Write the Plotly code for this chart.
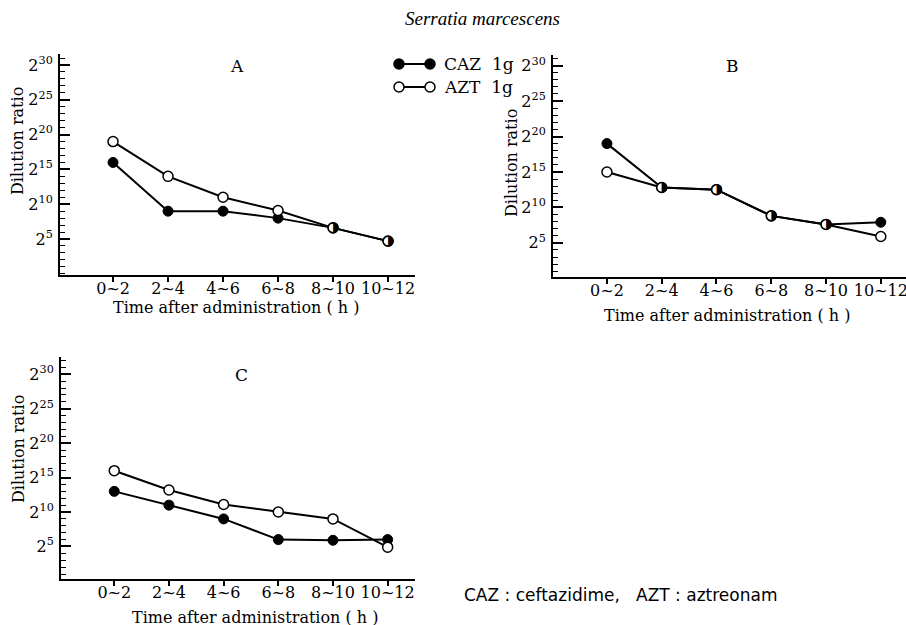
import plotly.graph_objects as go

# ---------------- data ----------------
categories = ["0~2", "2~4", "4~6", "6~8", "8~10", "10~12"]

# exponents of 2 (dilution ratio = 2^value)
A_caz = [16, 9, 9, 8, 6.6, 4.7]
A_azt = [19, 14, 11, 9.1, 6.6, 4.7]
B_caz = [19, 12.8, 12.5, 8.8, 7.6, 7.9]
B_azt = [15, 12.8, 12.5, 8.8, 7.6, 5.9]
C_caz = [13, 11, 9, 6, 5.9, 6]
C_azt = [16, 13.2, 11.1, 10, 9, 4.9]

ytick_vals = [5, 10, 15, 20, 25, 30]
ytick_text = ["2<sup>%d</sup>" % v for v in ytick_vals]

W, H = 906, 625
SERIF = "DejaVu Serif"

fig = go.Figure()

# panel geometry in pixels: (left, right, top, bottom, xrange, yrange)
panels = {
    "A": dict(l=60, r=415, t=54, b=275, xr=[-0.964, 5.49], yr=[-0.17, 31.58],
              caz=A_caz, azt=A_azt),
    "B": dict(l=553, r=906, t=55, b=277, xr=[-0.985, 5.46], yr=[0.18, 31.5],
              caz=B_caz, azt=B_azt),
    "C": dict(l=61, r=415, t=357, b=579, xr=[-0.974, 5.50], yr=[0.28, 32.5],
              caz=C_caz, azt=C_azt),
}

layout_axes = {}
for i, (name, p) in enumerate(panels.items()):
    n = "" if i == 0 else str(i + 1)
    xa, ya = "x" + n, "y" + n
    fig.add_trace(go.Scatter(
        x=categories, y=p["caz"], mode="lines+markers", xaxis=xa, yaxis=ya,
        line=dict(color="black", width=2),
        marker=dict(symbol="circle", size=10, color="black",
                    line=dict(color="black", width=1)),
        showlegend=False, cliponaxis=False))
    fig.add_trace(go.Scatter(
        x=categories, y=p["azt"], mode="lines+markers", xaxis=xa, yaxis=ya,
        line=dict(color="black", width=2),
        marker=dict(symbol="circle", size=10, color="white",
                    line=dict(color="black", width=1.5)),
        showlegend=False, cliponaxis=False))
    # half-filled markers where both series coincide
    hx = [c for c, a, b in zip(categories, p["caz"], p["azt"]) if a == b]
    hy = [a for a, b in zip(p["caz"], p["azt"]) if a == b]
    fig.add_trace(go.Scatter(
        x=hx, y=hy, mode="text", text=["\u25d1"] * len(hx),
        textposition="middle center", xaxis=xa, yaxis=ya,
        textfont=dict(family="DejaVu Sans", size=14, color="black"),
        showlegend=False, cliponaxis=False))

    layout_axes["xaxis" + n] = dict(
        domain=[p["l"] / W, p["r"] / W], anchor=ya,
        type="category", categoryorder="array", categoryarray=categories,
        range=p["xr"], showline=True, linewidth=2, linecolor="black",
        ticks="outside", ticklen=5, tickwidth=1.5, tickcolor="black",
        showgrid=False, zeroline=False, automargin=False,
        ticklabelstandoff=-7,
        tickfont=dict(family=SERIF, size=16, color="black"))
    layout_axes["yaxis" + n] = dict(
        domain=[1 - p["b"] / H, 1 - p["t"] / H], anchor=xa,
        range=p["yr"], showline=True, linewidth=2, linecolor="black",
        tickmode="array", tickvals=ytick_vals, ticktext=ytick_text,
        ticks="inside", ticklen=10, tickwidth=1.5, tickcolor="black",
        minor=dict(tickmode="linear", tick0=0, dtick=1, ticks="inside",
                   ticklen=5, tickwidth=1, tickcolor="black"),
        showgrid=False, zeroline=False, ticklabelstandoff=2, automargin=False,
        tickfont=dict(family=SERIF, size=16, color="black"))

annotations = []
def ann(text, x, y, size=16, family=SERIF, angle=0, **kw):
    annotations.append(dict(text=text, x=x / W, y=1 - y / H, xref="paper",
                            yref="paper", showarrow=False, textangle=angle,
                            xanchor="center", yanchor="middle",
                            font=dict(family=family, size=size, color="black"),
                            **kw))

ann("<i>Serratia marcescens</i>", 483, 18, size=19, family="Liberation Serif")
ann("A", 237, 66, size=17)
ann("B", 732, 66, size=17)
ann("C", 241, 375, size=17)
for (x, y) in [(17, 141), (512, 163), (18, 449)]:
    ann("Dilution ratio", x, y, size=16, angle=-90)
for (x, y) in [(236, 307), (727, 315), (255, 617)]:
    ann("Time after administration\u00a0( h )", x, y, size=16)
ann("CAZ : ceftazidime,\u00a0\u00a0\u00a0AZT : aztreonam", 620, 595, size=17,
    family="DejaVu Sans")

# custom legend
shapes = []
for (y, fill, label) in [(64, "black", "CAZ\u00a0\u00a01g"), (87, "white", "AZT\u00a0\u00a01g")]:
    shapes.append(dict(type="line", xref="paper", yref="paper",
                       x0=399 / W, x1=430 / W, y0=1 - y / H, y1=1 - y / H,
                       line=dict(color="black", width=2)))
    for cx in (399, 430):
        shapes.append(dict(type="circle", xref="paper", yref="paper",
                           xsizemode="pixel", ysizemode="pixel",
                           xanchor=cx / W, yanchor=1 - y / H,
                           x0=-5, x1=5, y0=-5, y1=5, fillcolor=fill,
                           line=dict(color="black", width=1.5)))
    annotations.append(dict(text=label, x=442 / W, y=1 - y / H, xref="paper",
                            yref="paper", showarrow=False, xanchor="left",
                            yanchor="middle",
                            font=dict(family=SERIF, size=17, color="black")))

fig.update_layout(
    width=W, height=H, margin=dict(l=0, r=0, t=0, b=0),
    paper_bgcolor="white", plot_bgcolor="white", showlegend=False,
    annotations=annotations, shapes=shapes, **layout_axes)

fig.write_html("out.html", config={"displayModeBar": False},
               post_script="document.body.style.margin='0';"
                           "document.body.style.overflow='hidden';")
